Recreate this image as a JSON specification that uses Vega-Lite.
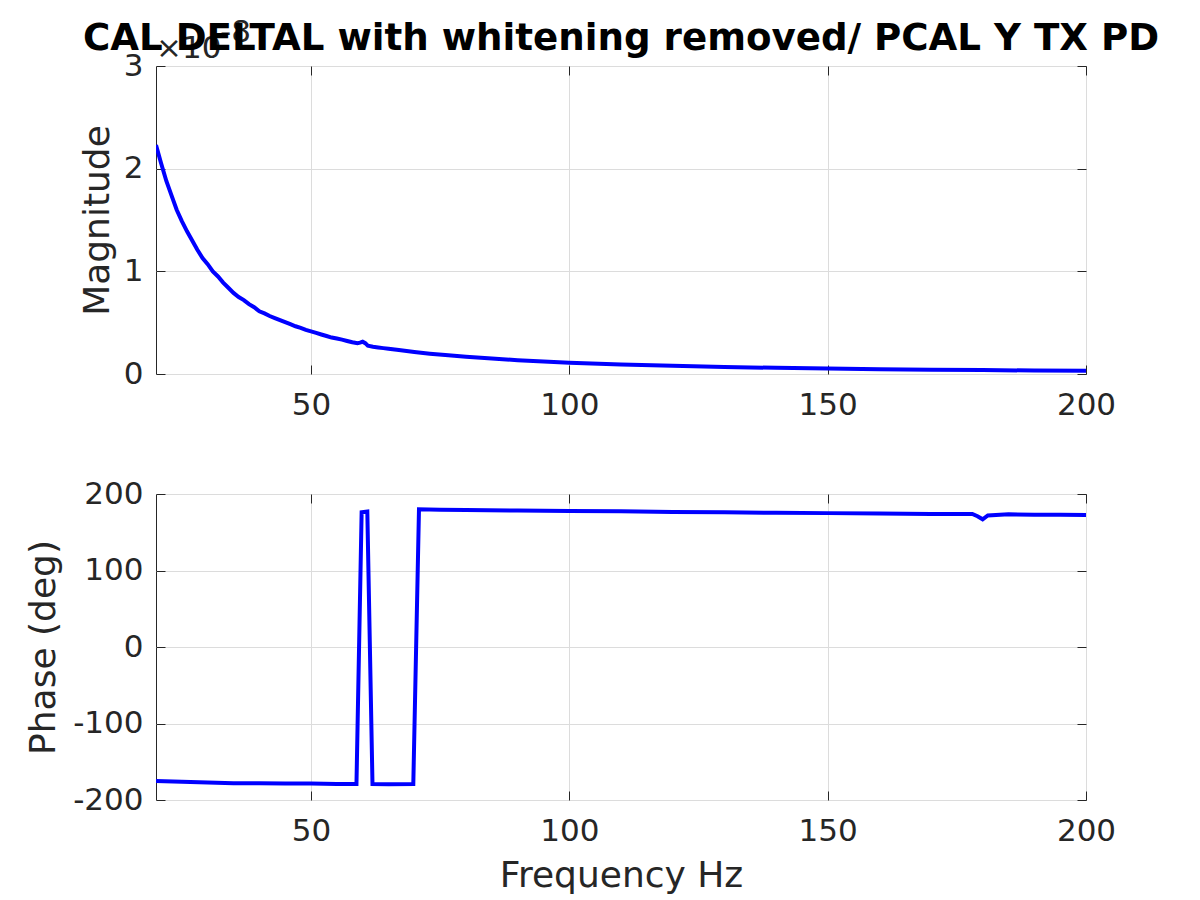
{
  "$schema": "https://vega.github.io/schema/vega-lite/v6.json",
  "background": "white",
  "padding": {"left": 25, "top": 16, "right": 10, "bottom": 5},
  "spacing": 56,
  "config": {
    "font": "DejaVu Sans",
    "view": {"stroke": "#262626", "strokeWidth": 1},
    "axis": {
      "labelFont": "DejaVu Sans", "labelFontSize": 31, "labelColor": "#262626",
      "titleFont": "DejaVu Sans", "titleFontSize": 36, "titleFontWeight": "normal", "titleColor": "#262626",
      "gridColor": "#dcdcdc", "gridWidth": 1, "domain": false,
      "tickColor": "#262626", "tickSize": -9, "tickWidth": 1,
      "labelFlush": false, "labelOverlap": false, "labelBound": false
    }
  },
  "datasets": {
    "mag": [
      {"freq": 20, "mag": 2.23e-8}, {"freq": 21, "mag": 2.05e-8}, {"freq": 22, "mag": 1.88e-8},
      {"freq": 23, "mag": 1.74e-8}, {"freq": 24, "mag": 1.60e-8}, {"freq": 25, "mag": 1.49e-8},
      {"freq": 26, "mag": 1.39e-8}, {"freq": 27, "mag": 1.30e-8}, {"freq": 28, "mag": 1.21e-8},
      {"freq": 29, "mag": 1.13e-8}, {"freq": 30, "mag": 1.07e-8}, {"freq": 31, "mag": 1.00e-8},
      {"freq": 32, "mag": 0.95e-8}, {"freq": 33, "mag": 0.89e-8}, {"freq": 34, "mag": 0.84e-8},
      {"freq": 35, "mag": 0.79e-8}, {"freq": 36, "mag": 0.75e-8}, {"freq": 37, "mag": 0.72e-8},
      {"freq": 38, "mag": 0.68e-8}, {"freq": 39, "mag": 0.65e-8}, {"freq": 40, "mag": 0.61e-8},
      {"freq": 41, "mag": 0.59e-8}, {"freq": 42, "mag": 0.565e-8}, {"freq": 43, "mag": 0.545e-8},
      {"freq": 44, "mag": 0.525e-8}, {"freq": 45, "mag": 0.505e-8}, {"freq": 46, "mag": 0.485e-8},
      {"freq": 47, "mag": 0.465e-8}, {"freq": 48, "mag": 0.45e-8}, {"freq": 49, "mag": 0.43e-8},
      {"freq": 50, "mag": 0.415e-8}, {"freq": 51, "mag": 0.40e-8}, {"freq": 52, "mag": 0.385e-8},
      {"freq": 53, "mag": 0.37e-8}, {"freq": 54, "mag": 0.355e-8}, {"freq": 55, "mag": 0.345e-8},
      {"freq": 56, "mag": 0.335e-8}, {"freq": 57, "mag": 0.322e-8}, {"freq": 58, "mag": 0.31e-8},
      {"freq": 59, "mag": 0.30e-8}, {"freq": 59.5, "mag": 0.305e-8}, {"freq": 60, "mag": 0.315e-8},
      {"freq": 60.5, "mag": 0.30e-8}, {"freq": 61, "mag": 0.275e-8}, {"freq": 62, "mag": 0.265e-8},
      {"freq": 63, "mag": 0.258e-8}, {"freq": 64, "mag": 0.252e-8}, {"freq": 65, "mag": 0.245e-8},
      {"freq": 67, "mag": 0.233e-8}, {"freq": 70, "mag": 0.215e-8}, {"freq": 73, "mag": 0.198e-8},
      {"freq": 76, "mag": 0.184e-8}, {"freq": 80, "mag": 0.167e-8}, {"freq": 85, "mag": 0.150e-8},
      {"freq": 90, "mag": 0.135e-8}, {"freq": 95, "mag": 0.122e-8}, {"freq": 100, "mag": 0.110e-8},
      {"freq": 110, "mag": 0.093e-8}, {"freq": 120, "mag": 0.080e-8}, {"freq": 130, "mag": 0.069e-8},
      {"freq": 140, "mag": 0.060e-8}, {"freq": 150, "mag": 0.053e-8}, {"freq": 160, "mag": 0.047e-8},
      {"freq": 170, "mag": 0.042e-8}, {"freq": 180, "mag": 0.038e-8}, {"freq": 190, "mag": 0.034e-8},
      {"freq": 200, "mag": 0.031e-8}
    ],
    "phase": [
      {"freq": 20, "phase": -175}, {"freq": 25, "phase": -176}, {"freq": 30, "phase": -177},
      {"freq": 35, "phase": -178}, {"freq": 40, "phase": -178}, {"freq": 45, "phase": -178.5},
      {"freq": 50, "phase": -178.5}, {"freq": 55, "phase": -179}, {"freq": 58.8, "phase": -179},
      {"freq": 59.8, "phase": 176}, {"freq": 60.9, "phase": 177}, {"freq": 61.9, "phase": -179},
      {"freq": 65, "phase": -179.5}, {"freq": 69.8, "phase": -179}, {"freq": 70.9, "phase": 180},
      {"freq": 75, "phase": 179.5}, {"freq": 80, "phase": 179}, {"freq": 90, "phase": 178.5},
      {"freq": 100, "phase": 177.8}, {"freq": 110, "phase": 177.5}, {"freq": 120, "phase": 176.5},
      {"freq": 130, "phase": 176}, {"freq": 140, "phase": 175.5}, {"freq": 150, "phase": 175},
      {"freq": 160, "phase": 174.5}, {"freq": 170, "phase": 174}, {"freq": 178, "phase": 174},
      {"freq": 179, "phase": 171}, {"freq": 180, "phase": 167}, {"freq": 181, "phase": 172},
      {"freq": 185, "phase": 173.5}, {"freq": 190, "phase": 173}, {"freq": 195, "phase": 173},
      {"freq": 200, "phase": 172.5}
    ],
    "corner": [{"freq": 20, "mag": 3e-8}]
  },
  "vconcat": [
    {
      "width": 930, "height": 308,
      "title": {"text": "CAL DELTAL with whitening removed/ PCAL Y TX PD", "fontSize": 37.2, "fontWeight": "bold", "color": "#000000", "anchor": "middle", "frame": "group", "baseline": "alphabetic", "offset": -70},
      "resolve": {"axis": {"x": "independent", "y": "independent"}},
      "layer": [
        {
          "data": {"name": "mag"},
          "mark": {"type": "line", "color": "#0000ff", "strokeWidth": 4, "clip": true},
          "encoding": {
            "x": {"field": "freq", "type": "quantitative", "scale": {"domain": [20, 200], "nice": false, "zero": false},
                  "axis": {"values": [50, 100, 150, 200], "title": null, "labelPadding": 25, "grid": true}},
            "y": {"field": "mag", "type": "quantitative", "scale": {"domain": [0, 3e-8], "nice": false},
                  "axis": {"values": [0, 1e-8, 2e-8, 3e-8], "labelExpr": "''+round(datum.value*1e8)", "title": "Magnitude", "labelPadding": 22, "titlePadding": 7, "grid": true}}
          }
        },
        {
          "data": {"name": "corner"},
          "mark": {"type": "text", "text": "×10", "align": "left", "baseline": "alphabetic", "dx": 0, "dy": -8, "fontSize": 31, "color": "#262626", "clip": false},
          "encoding": {
            "x": {"field": "freq", "type": "quantitative", "axis": {"orient": "top", "values": [50, 100, 150, 200], "labels": false, "title": null, "grid": false}},
            "y": {"field": "mag", "type": "quantitative", "axis": {"orient": "right", "values": [0, 1e-8, 2e-8, 3e-8], "labels": false, "title": null, "grid": false}}
          }
        },
        {
          "data": {"name": "corner"},
          "mark": {"type": "text", "text": "-8", "align": "left", "baseline": "alphabetic", "dx": 64, "dy": -24, "fontSize": 31, "color": "#262626", "clip": false},
          "encoding": {
            "x": {"field": "freq", "type": "quantitative", "axis": null},
            "y": {"field": "mag", "type": "quantitative", "axis": null}
          }
        }
      ]
    },
    {
      "width": 930, "height": 306,
      "data": {"name": "phase"},
      "resolve": {"axis": {"x": "independent", "y": "independent"}},
      "layer": [
        {
          "mark": {"type": "line", "color": "#0000ff", "strokeWidth": 4, "clip": true},
          "encoding": {
            "x": {"field": "freq", "type": "quantitative", "scale": {"domain": [20, 200], "nice": false, "zero": false},
                  "axis": {"values": [50, 100, 150, 200], "title": "Frequency Hz", "labelPadding": 25, "titlePadding": 12, "grid": true}},
            "y": {"field": "phase", "type": "quantitative", "scale": {"domain": [-200, 200], "nice": false},
                  "axis": {"values": [-200, -100, 0, 100, 200], "labelExpr": "''+datum.value", "title": "Phase (deg)", "labelPadding": 22, "titlePadding": 10, "grid": true}}
          }
        },
        {
          "mark": {"type": "line", "opacity": 0},
          "encoding": {
            "x": {"field": "freq", "type": "quantitative", "axis": {"orient": "top", "values": [50, 100, 150, 200], "labels": false, "title": null, "grid": false}},
            "y": {"field": "phase", "type": "quantitative", "axis": {"orient": "right", "values": [-200, -100, 0, 100, 200], "labels": false, "title": null, "grid": false}}
          }
        }
      ]
    }
  ]
}
